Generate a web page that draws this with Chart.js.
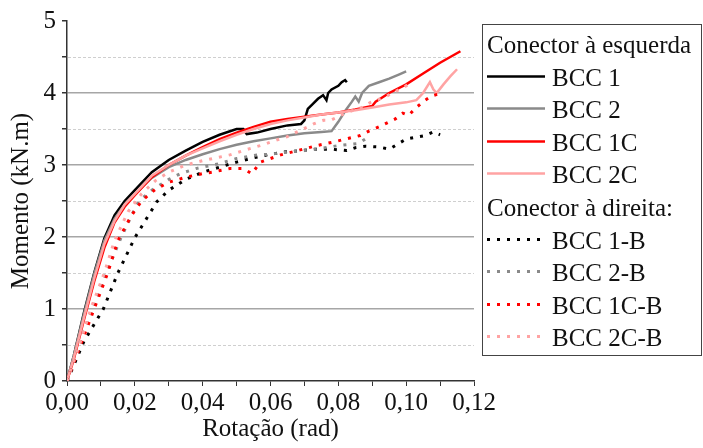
<!DOCTYPE html>
<html>
<head>
<meta charset="utf-8">
<script src="https://cdn.jsdelivr.net/npm/chart.js@4/dist/chart.umd.min.js"></script>
<style>
  html, body { margin: 0; padding: 0; background: #fff; }
  #wrap { width: 703px; height: 448px; }
</style>
</head>
<body>
<div id="wrap"><canvas id="c" width="703" height="448"></canvas></div>
<script>
// ---- Data (rotation in rad, moment in kN.m) ----
const rotBCC1 = [0,0.002,0.005,0.008,0.011,0.014,0.017,0.02,0.025,0.03,0.035,0.04,0.045,0.05,0.052,0.053,0.056,0.06,0.065,0.069,0.070,0.071,0.0725,0.074,0.0755,0.0765,0.077,0.078,0.080,0.081,0.082,0.0825];
const momBCC1 = [0,0.35,0.95,1.5,1.98,2.3,2.5,2.65,2.9,3.07,3.2,3.32,3.42,3.5,3.5,3.43,3.45,3.5,3.55,3.57,3.62,3.78,3.85,3.92,3.97,3.9,4.0,4.05,4.1,4.15,4.18,4.15];

const rotBCC2 = [0,0.002,0.005,0.008,0.011,0.014,0.017,0.02,0.025,0.03,0.035,0.04,0.045,0.05,0.055,0.06,0.065,0.07,0.075,0.078,0.080,0.082,0.084,0.085,0.086,0.087,0.089,0.092,0.095,0.098,0.1];
const momBCC2 = [0,0.35,0.93,1.48,1.95,2.25,2.45,2.6,2.82,2.97,3.07,3.15,3.22,3.28,3.33,3.37,3.41,3.44,3.46,3.47,3.6,3.75,3.88,3.95,3.88,4.0,4.1,4.15,4.2,4.26,4.3];

const rotBCC1C = [0,0.002,0.005,0.008,0.011,0.014,0.017,0.02,0.025,0.03,0.035,0.04,0.045,0.05,0.055,0.06,0.065,0.07,0.075,0.08,0.085,0.09,0.091,0.095,0.1,0.105,0.11,0.116];
const momBCC1C = [0,0.3,0.85,1.38,1.85,2.2,2.42,2.58,2.83,3.0,3.13,3.25,3.36,3.45,3.53,3.6,3.64,3.67,3.7,3.73,3.77,3.82,3.88,4.0,4.12,4.27,4.42,4.58];

const rotBCC2C = [0,0.002,0.005,0.008,0.011,0.014,0.017,0.02,0.025,0.03,0.035,0.04,0.045,0.05,0.055,0.06,0.065,0.07,0.075,0.08,0.085,0.09,0.095,0.1,0.103,0.105,0.107,0.108,0.109,0.111,0.113,0.115];
const momBCC2C = [0,0.32,0.88,1.42,1.9,2.22,2.45,2.6,2.85,3.0,3.13,3.23,3.33,3.42,3.5,3.57,3.62,3.66,3.7,3.73,3.76,3.8,3.84,3.87,3.9,4.0,4.15,4.05,4.0,4.12,4.23,4.33];

const rotBCC1B = [0,0.005,0.0107,0.015,0.02,0.0265,0.03,0.035,0.04,0.045,0.05,0.055,0.06,0.064,0.069,0.073,0.078,0.0825,0.085,0.088,0.092,0.095,0.1,0.1056,0.108,0.11];
const momBCC1B = [0,0.55,1.0,1.5,1.99,2.49,2.65,2.8,2.9,2.97,3.04,3.1,3.15,3.18,3.2,3.22,3.22,3.2,3.24,3.26,3.25,3.22,3.36,3.41,3.46,3.42];

const rotBCC2B = [0,0.005,0.008,0.012,0.016,0.021,0.025,0.03,0.0334,0.038,0.045,0.05,0.056,0.06,0.065,0.07,0.075,0.08,0.086,0.0895];
const momBCC2B = [0,0.7,1.05,1.55,2.0,2.49,2.65,2.8,2.88,2.95,3.02,3.09,3.14,3.15,3.18,3.2,3.23,3.27,3.3,3.41];

const rotBCC1CB = [0,0.004,0.008,0.012,0.015,0.019,0.022,0.026,0.03,0.035,0.04,0.0427,0.048,0.052,0.0545,0.057,0.063,0.068,0.0737,0.0786,0.0865,0.089,0.092,0.0968,0.099,0.1007,0.103,0.1056,0.1076,0.1105];
const momBCC1CB = [0,0.5,1.0,1.5,1.95,2.3,2.5,2.66,2.76,2.83,2.88,2.9,2.95,2.95,2.88,3.04,3.14,3.2,3.27,3.32,3.41,3.47,3.53,3.64,3.72,3.69,3.8,3.9,3.96,4.0];

const rotBCC2CB = [0,0.004,0.007,0.011,0.014,0.018,0.022,0.026,0.03,0.035,0.04,0.044,0.048,0.052,0.057,0.062,0.0648,0.0727,0.0756,0.0777,0.082,0.087,0.0895,0.094,0.098,0.102];
const momBCC2CB = [0,0.55,1.0,1.5,1.95,2.35,2.6,2.78,2.9,3.0,3.06,3.1,3.14,3.2,3.27,3.35,3.39,3.57,3.62,3.62,3.72,3.8,3.87,3.95,4.05,4.15];

const seriesNames = ['BCC 1','BCC 2','BCC 1C','BCC 2C','BCC 1-B','BCC 2-B','BCC 1C-B','BCC 2C-B'];
const legendHeaders = ['Conector à esquerda', 'Conector à direita:'];
const xTickLabels = ['0,00','0,02','0,04','0,06','0,08','0,10','0,12'];
const yTickLabels = ['0','1','2','3','4','5'];

// ---- Build ----
const xs = [rotBCC1, rotBCC2, rotBCC1C, rotBCC2C, rotBCC1B, rotBCC2B, rotBCC1CB, rotBCC2CB];
const ys = [momBCC1, momBCC2, momBCC1C, momBCC2C, momBCC1B, momBCC2B, momBCC1CB, momBCC2CB];
const colors = ['#000000','#8a8a8a','#ff0000','#ffa3a3','#000000','#8a8a8a','#ff0000','#ffa3a3'];
const FONT = "'Liberation Serif', 'Times New Roman', serif";
const DOT = [3, 7];

const datasets = seriesNames.map((name, i) => ({
  label: name,
  data: xs[i].map((x, k) => ({ x: x, y: ys[i][k] })),
  showLine: true,
  borderColor: colors[i],
  backgroundColor: colors[i],
  borderWidth: i < 4 ? 2.5 : 3,
  borderDash: i < 4 ? [] : DOT,
  pointRadius: 0,
  tension: 0,
  order: 8 - i
}));

const halfGrid = {
  id: 'halfGrid',
  beforeDatasetsDraw(chart) {
    const { ctx, chartArea, scales } = chart;
    ctx.save();
    ctx.strokeStyle = '#cfcfcf';
    ctx.lineWidth = 1;
    ctx.setLineDash([3, 2]);
    [0.5, 1.5, 2.5, 3.5, 4.5].forEach(v => {
      const y = Math.round(scales.y.getPixelForValue(v)) + 0.5;
      ctx.beginPath();
      ctx.moveTo(chartArea.left + 1, y);
      ctx.lineTo(chartArea.right, y);
      ctx.stroke();
    });
    ctx.restore();
  }
};

const customLegend = {
  id: 'customLegend',
  afterDraw(chart) {
    const ctx = chart.ctx;
    ctx.save();
    // box
    ctx.strokeStyle = '#444';
    ctx.lineWidth = 1;
    ctx.strokeRect(482.5, 24.5, 219, 331);
    ctx.font = '25px ' + FONT;
    ctx.fillStyle = '#111';
    ctx.textBaseline = 'alphabetic';
    ctx.textAlign = 'left';
    const step = 32.6;
    const base0 = 53;
    const rows = [
      { header: legendHeaders[0] },
      { idx: 0 }, { idx: 1 }, { idx: 2 }, { idx: 3 },
      { header: legendHeaders[1] },
      { idx: 4 }, { idx: 5 }, { idx: 6 }, { idx: 7 }
    ];
    rows.forEach((r, i) => {
      const by = base0 + step * i;
      if (r.header) {
        ctx.fillText(r.header, 487, by);
      } else {
        const ds = chart.data.datasets[r.idx];
        const ly = Math.round(by - 10) + 0.5;
        ctx.save();
        ctx.strokeStyle = ds.borderColor;
        ctx.lineWidth = ds.borderWidth;
        ctx.setLineDash(ds.borderDash);
        ctx.beginPath();
        ctx.moveTo(487, ly);
        ctx.lineTo(545, ly);
        ctx.stroke();
        ctx.restore();
        ctx.fillText(ds.label, 552, by);
      }
    });
    ctx.restore();
  }
};

new Chart(document.getElementById('c'), {
  type: 'scatter',
  data: { datasets },
  options: {
    responsive: false,
    animation: false,
    layout: { padding: { top: 18, right: 229, left: 0, bottom: 0 } },
    plugins: { legend: { display: false }, tooltip: { enabled: false } },
    scales: {
      x: {
        type: 'linear',
        min: 0, max: 0.12,
        afterFit: s => { s.height = 67; },
        afterBuildTicks: s => {
          const t = [];
          for (let k = 0; k <= 12; k++) t.push({ value: k / 100 });
          s.ticks = t;
        },
        ticks: {
          autoSkip: false,
          maxRotation: 0,
          padding: 2,
          color: '#111',
          font: { family: FONT, size: 25 },
          callback: (v, i) => (i % 2 === 0 ? xTickLabels[i / 2] : '')
        },
        grid: { drawOnChartArea: false, drawTicks: true, tickLength: 5, tickColor: '#333', tickWidth: 1 },
        border: { color: '#333', width: 1.5 },
        title: { display: true, text: 'Rotação (rad)', color: '#111', font: { family: FONT, size: 25 }, padding: { top: 0, bottom: 4 } }
      },
      y: {
        type: 'linear',
        min: 0, max: 5,
        afterFit: s => { s.width = 67; },
        afterBuildTicks: s => {
          const t = [];
          for (let k = 0; k <= 10; k++) t.push({ value: k / 2 });
          s.ticks = t;
        },
        ticks: {
          autoSkip: false,
          padding: 6,
          color: '#111',
          font: { family: FONT, size: 25 },
          callback: (v, i) => (i % 2 === 0 ? yTickLabels[i / 2] : '')
        },
        grid: {
          drawOnChartArea: true,
          drawTicks: true,
          tickLength: 5,
          tickColor: '#333',
          lineWidth: 1.5,
          color: c => (c.tick && c.tick.value % 1 === 0 && c.tick.value > 0 && c.tick.value < 5) ? '#a6a6a6' : 'rgba(0,0,0,0)'
        },
        border: { color: '#333', width: 1.5 },
        title: { display: true, text: 'Momento (kN.m)', color: '#111', font: { family: FONT, size: 25 }, padding: { top: 6, bottom: 0 } }
      }
    }
  },
  plugins: [halfGrid, customLegend]
});
</script>
</body>
</html>
